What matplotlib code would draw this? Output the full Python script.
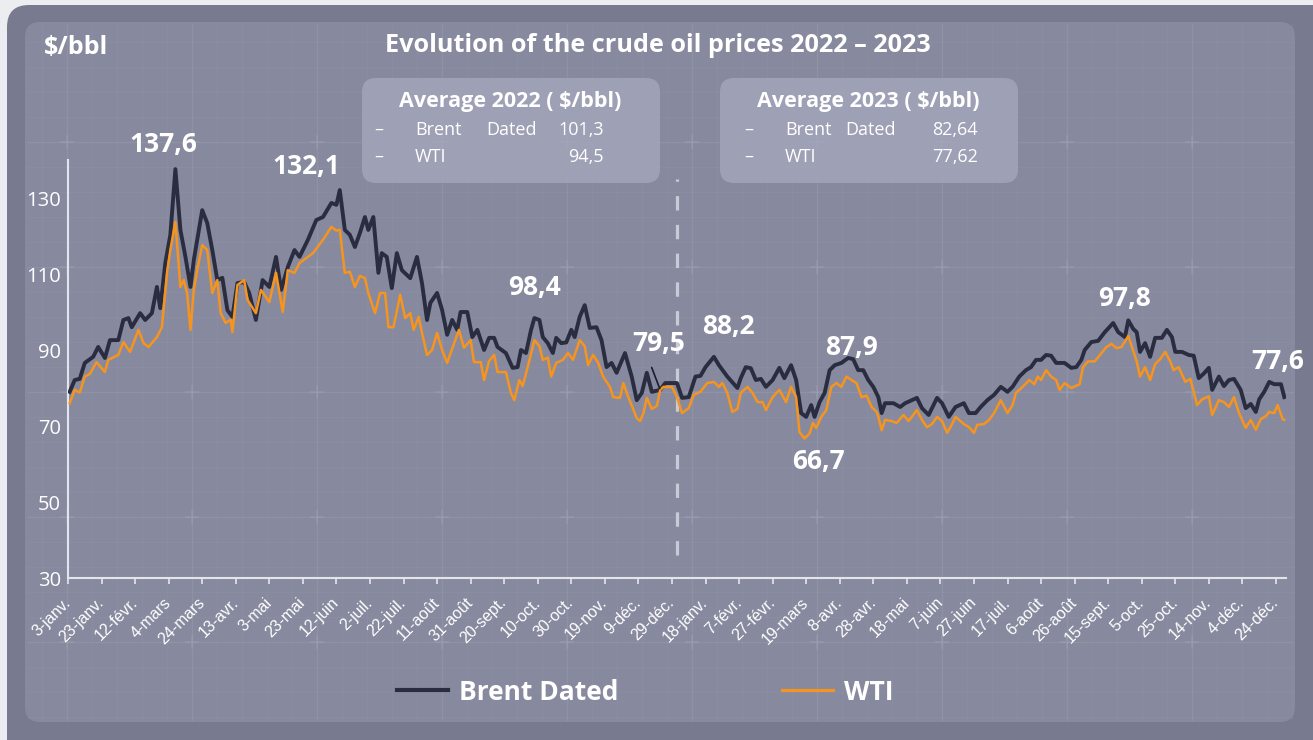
import numpy as np
import pandas as pd
import matplotlib
matplotlib.use('Agg')
import matplotlib.pyplot as plt
from matplotlib.patches import FancyBboxPatch
from matplotlib.transforms import IdentityTransform, ScaledTranslation
from matplotlib.lines import Line2D

W, H = 1313, 740
plt.rcParams['font.family'] = ['Open Sans', 'DejaVu Sans']

# day offsets from 3 Jan 2022, prices in $/bbl
start = pd.Timestamp('2022-01-03')
brent_days = [1, 4, 7, 10, 15, 18, 22, 25, 30, 33, 36, 38, 43, 46, 50, 53, 55, 58, 61, 64,
              67, 70, 73, 75, 77, 80, 83, 86, 89, 92, 95, 98, 101, 105, 108, 112, 116, 120, 124, 127,
              131, 135, 138, 143, 148, 152, 157, 160, 162, 165, 168, 171, 174, 177, 179, 182, 185, 187, 190, 193,
              196, 199, 204, 208, 211, 214, 216, 220, 223, 226, 229, 232, 234, 238, 241, 244, 248, 251, 254, 256,
              261, 265, 268, 270, 273, 276, 278, 281, 283, 286, 289, 291, 294, 297, 300, 302, 305, 308, 311, 315,
              318, 321, 324, 327, 332, 336, 339, 342, 345, 348, 353, 356, 359, 363, 366, 370, 374, 377, 380, 385,
              388, 393, 399, 401, 404, 407, 410, 413, 416, 420, 424, 427, 431, 434, 437, 440, 443, 445, 448, 451,
              454, 457, 461, 465, 468, 471, 474, 477, 480, 483, 485, 487, 492, 496, 499, 506, 509, 513, 518, 521,
              525, 529, 534, 537, 541, 544, 548, 552, 556, 560, 563, 567, 571, 574, 577, 580, 583, 586, 589, 594,
              598, 601, 604, 606, 610, 614, 618, 623, 626, 630, 632, 635, 637, 639, 642, 645, 648, 652, 655, 658,
              660, 664, 668, 671, 674, 677, 680, 682, 686, 689, 692, 695, 699, 702, 705, 708, 710, 713, 716, 719,
              723, 725]
brent = [79.0, 82.1, 82.4, 86.6, 88.2, 90.8, 87.9, 92.6, 92.6, 97.9, 98.4, 96.0, 99.7, 97.9, 99.7, 106.6, 101.0, 112.9, 120.3, 137.6,
         121.6, 114.5, 106.6, 113.7, 119.0, 126.8, 123.4, 116.3, 108.4, 109.0, 100.5, 98.7, 107.6, 107.9, 105.0, 97.9, 108.4, 106.6, 114.5, 105.8,
         111.8, 116.3, 114.5, 119.0, 124.2, 125.0, 128.7, 128.2, 132.1, 121.6, 120.3, 117.1, 120.8, 125.0, 121.6, 125.0, 110.3, 115.5, 114.5, 106.3,
         115.5, 111.0, 108.9, 114.5, 107.6, 97.9, 102.4, 105.0, 100.5, 94.0, 97.9, 95.3, 100.0, 100.0, 93.4, 95.3, 90.0, 93.2, 93.2, 90.8,
         89.2, 85.3, 85.5, 90.0, 89.2, 95.3, 98.4, 97.9, 93.4, 91.8, 89.2, 93.2, 91.8, 92.0, 95.3, 93.4, 98.7, 101.8, 95.8, 96.0,
         92.6, 85.5, 86.6, 84.0, 89.2, 83.0, 76.8, 78.7, 84.0, 79.0, 79.5, 81.3, 81.3, 81.3, 77.4, 77.6, 83.0, 83.2, 85.5, 88.2,
         86.0, 83.0, 80.0, 82.6, 85.5, 85.2, 82.1, 82.4, 80.3, 82.1, 85.3, 82.6, 86.0, 82.1, 73.4, 72.4, 75.5, 72.4, 76.3, 78.7,
         84.7, 86.0, 86.6, 87.9, 87.6, 84.7, 84.7, 82.1, 80.3, 77.6, 73.4, 76.0, 76.0, 75.0, 76.0, 77.4, 74.7, 72.9, 77.4, 76.0,
         72.4, 75.0, 76.0, 73.4, 73.4, 75.0, 76.8, 78.2, 80.3, 79.0, 80.3, 83.0, 84.7, 85.5, 87.4, 87.4, 88.7, 88.5, 86.6, 86.6,
         85.3, 85.5, 87.4, 90.0, 92.1, 92.4, 94.7, 97.1, 94.7, 93.4, 97.8, 95.5, 94.7, 89.5, 91.8, 88.2, 93.2, 93.2, 95.3, 93.4,
         89.5, 89.5, 88.7, 88.5, 82.6, 83.8, 85.3, 79.5, 83.0, 80.5, 82.1, 82.4, 79.5, 74.7, 75.8, 73.7, 77.0, 79.0, 81.6, 81.0,
         81.0, 77.6]
wti_days = [1, 4, 7, 10, 13, 17, 22, 24, 30, 33, 37, 42, 45, 48, 53, 56, 59, 61, 64, 67,
            69, 71, 73, 75, 77, 80, 83, 86, 89, 91, 94, 97, 98, 101, 105, 107, 112, 115, 120, 124,
            128, 131, 135, 138, 143, 146, 152, 157, 160, 162, 165, 168, 171, 174, 177, 179, 183, 186, 189, 191,
            194, 198, 201, 204, 206, 209, 211, 214, 217, 220, 223, 226, 229, 233, 236, 240, 242, 246, 248, 251,
            254, 256, 261, 264, 266, 269, 271, 274, 278, 281, 283, 286, 288, 291, 295, 298, 301, 305, 308, 310,
            313, 316, 319, 323, 325, 329, 331, 334, 339, 341, 343, 345, 348, 351, 353, 355, 360, 363, 366, 370,
            373, 377, 381, 385, 388, 390, 393, 396, 399, 401, 405, 408, 411, 414, 416, 420, 424, 428, 431, 434,
            436, 439, 442, 444, 446, 449, 452, 455, 458, 461, 464, 467, 470, 473, 476, 479, 482, 483, 485, 487,
            491, 494, 498, 501, 506, 509, 512, 515, 518, 521, 524, 527, 529, 534, 537, 540, 542, 546, 549, 552,
            556, 560, 563, 565, 569, 573, 576, 578, 580, 583, 586, 589, 591, 594, 598, 603, 605, 608, 612, 616,
            619, 622, 625, 628, 632, 635, 637, 639, 642, 645, 648, 651, 654, 657, 659, 662, 666, 669, 673, 676,
            680, 682, 686, 689, 692, 695, 698, 702, 705, 708, 711, 714, 716, 719, 721, 724, 725]
wti = [76.0, 79.5, 78.8, 83.0, 83.7, 86.8, 84.2, 87.4, 88.7, 92.1, 89.5, 95.3, 91.8, 90.8, 93.4, 96.0, 110.3, 116.3, 123.7, 106.6,
       108.4, 105.0, 95.3, 105.8, 111.0, 117.6, 116.3, 105.0, 108.4, 99.7, 97.1, 98.0, 94.7, 107.1, 108.4, 103.2, 99.7, 105.8, 102.6, 110.3,
       100.0, 111.0, 110.3, 112.9, 114.5, 115.5, 119.0, 122.4, 121.4, 121.6, 110.3, 110.6, 106.6, 109.5, 108.9, 105.0, 99.7, 105.0, 105.0, 96.0,
       96.0, 104.5, 98.4, 99.7, 95.3, 98.7, 94.5, 88.7, 90.0, 94.5, 90.0, 86.6, 90.3, 95.3, 90.6, 92.6, 86.8, 86.8, 82.1, 87.1,
       88.7, 84.2, 84.2, 78.7, 76.8, 82.1, 80.5, 85.5, 92.6, 91.0, 87.4, 88.0, 83.0, 86.6, 87.4, 89.2, 87.4, 92.6, 91.0, 86.0,
       88.7, 86.6, 83.0, 80.3, 77.6, 77.4, 81.3, 77.6, 72.1, 71.3, 73.4, 77.4, 74.5, 75.3, 79.5, 80.3, 80.3, 77.6, 73.4, 74.7,
       78.2, 79.0, 81.3, 81.6, 80.3, 81.3, 78.7, 73.7, 74.5, 78.7, 80.3, 78.7, 76.3, 76.3, 74.2, 77.6, 79.5, 76.3, 80.3, 77.6,
       68.4, 66.7, 68.0, 70.8, 69.5, 72.4, 74.2, 80.3, 81.3, 80.3, 83.0, 82.1, 81.3, 77.6, 78.0, 75.0, 73.7, 72.4, 68.9, 71.6,
       71.3, 70.8, 72.9, 71.3, 74.2, 71.6, 69.7, 70.5, 72.4, 71.3, 68.2, 70.5, 72.4, 70.5, 69.7, 68.2, 70.3, 70.5, 71.6, 73.4,
       76.8, 73.4, 75.5, 78.7, 80.3, 82.1, 81.0, 83.0, 82.1, 84.7, 83.0, 82.1, 79.5, 81.3, 80.0, 81.0, 85.5, 87.0, 87.0, 89.2,
       90.8, 91.6, 90.5, 90.8, 93.7, 89.7, 87.0, 83.0, 85.5, 82.1, 86.3, 87.6, 89.5, 87.0, 84.7, 85.5, 81.6, 82.4, 75.5, 77.0,
       77.8, 72.9, 76.8, 76.3, 75.0, 77.6, 73.4, 69.5, 71.6, 69.0, 71.8, 72.6, 73.7, 73.4, 75.5, 71.8, 71.6]

tick_labels = ['3-janv.', '23-janv.', '12-févr.', '4-mars', '24-mars', '13-avr.', '3-mai', '23-mai',
               '12-juin', '2-juil.', '22-juil.', '11-août', '31-août', '20-sept.', '10-oct.', '30-oct.',
               '19-nov.', '9-déc.', '29-déc.', '18-janv.', '7-févr.', '27-févr.', '19-mars', '8-avr.',
               '28-avr.', '18-mai', '7-juin', '27-juin', '17-juil.', '6-août', '26-août', '15-sept.',
               '5-oct.', '25-oct.', '14-nov.', '4-déc.', '24-déc.']

# labelled points: (series, day offset)
peaks = [('brent', 64), ('brent', 162), ('brent', 278), ('brent', 353), ('brent', 385),
         ('brent', 465), ('wti', 439), ('brent', 632), ('brent', 725)]
# label placement in pixels relative to the point
peak_offsets = [(-12, 11, 'bottom'), (-34, 10, 'bottom'), (0, 17, 'bottom'), (-2, 33, 'bottom'),
                (15, 17, 'bottom'), (3, -3, 'bottom'), (14, -9, 'top'), (-4, 8, 'bottom'), (-7, 22, 'bottom')]

avg_2022 = [('Brent', 'Dated', '101,3'), ('WTI', '', '94,5')]
avg_2023 = [('Brent', 'Dated', '82,64'), ('WTI', '', '77,62')]

series = {'brent': (brent_days, brent), 'wti': (wti_days, wti)}

BG_PAGE = '#ecedf1'
BG_OUTER = '#787b90'
BG_PANEL = '#878a9f'
BOX = '#a3a5b9'
NAVY = '#2a2c40'
ORANGE = '#f7941d'
LIGHT = '#e4e5ec'


def to_dates(days):
    return start + pd.to_timedelta(np.array(days), unit='D')


fig = plt.figure(figsize=(W / 100, H / 100), dpi=100)
fig.patch.set_facecolor(BG_PAGE)
pix = IdentityTransform()


def ptext(x, y, s, **kw):
    return fig.text(x, H - y, s, transform=pix, **kw)


# frame and panel
fig.patches.append(FancyBboxPatch((7, -30), W + 40, H + 25, boxstyle='round,pad=0,rounding_size=22',
                                  transform=pix, facecolor=BG_OUTER, edgecolor='none', zorder=-5))
fig.patches.append(FancyBboxPatch((25, H - 722), 1270, 700, boxstyle='round,pad=0,rounding_size=15',
                                  transform=pix, facecolor=BG_PANEL, edgecolor='none', zorder=-4))

# faint background grid texture
for gx in np.arange(42, 1295, 25):
    major = (gx - 67) % 125 == 0
    fig.lines.append(Line2D([gx, gx], [H - 720, H - 24], transform=pix, color='white',
                            alpha=0.07 if major else 0.03, lw=1, zorder=-3))
for gy in np.arange(42, 720, 25):
    major = (gy - 17) % 125 == 0
    fig.lines.append(Line2D([27, 1293], [H - gy, H - gy], transform=pix, color='white',
                            alpha=0.07 if major else 0.03, lw=1, zorder=-3))
mx, my = np.meshgrid(np.arange(67, 1295, 125), np.arange(142, 720, 125))
fig.lines.append(Line2D(mx.ravel(), H - my.ravel(), transform=pix, ls='none', marker='+', ms=10,
                        mew=1.3, color='white', alpha=0.08, zorder=-3))

# averages boxes
for (x0, title, rows, xs) in [(362, 'Average 2022 ( $/bbl)', avg_2022, (379, 415, 486, 604)),
                              (720, 'Average 2023 ( $/bbl)', avg_2023, (749, 785, 845, 978))]:
    fig.patches.append(FancyBboxPatch((x0, H - 183), 298, 105, boxstyle='round,pad=0,rounding_size=14',
                                      transform=pix, facecolor=BOX, edgecolor='none', alpha=0.85, zorder=-2))
    ptext(x0 + 148, 102, title, ha='center', va='center', color='white', fontsize=15.5, fontweight='bold')
    for i, (a, b, v) in enumerate(rows):
        yy = 130 + 27 * i
        ptext(xs[0], yy, '–', ha='center', va='center', color='white', fontsize=13)
        ptext(xs[1], yy, a, ha='left', va='center', color='white', fontsize=13)
        if b:
            ptext(xs[2], yy, b, ha='left', va='center', color='white', fontsize=13)
        ptext(xs[3], yy, v, ha='right', va='center', color='white', fontsize=13)

ptext(658, 45, 'Evolution of the crude oil prices 2022 – 2023', ha='center', va='center',
      color='white', fontsize=18.2, fontweight='bold')
ptext(44, 47, '$/bbl', ha='left', va='center', color='white', fontsize=18, fontweight='bold')

# main axes
ax = fig.add_axes([68 / W, 162 / H, 1218 / W, 418 / H])
ax.set_facecolor('none')
ax.plot(to_dates(brent_days), brent, color=NAVY, lw=2.8, zorder=3)
ax.plot(to_dates(wti_days), wti, color=ORANGE, lw=1.8, zorder=4)

ax.set_xlim(start, start + pd.Timedelta(days=726))
ax.set_ylim(30, 140)
ax.set_yticks([30, 50, 70, 90, 110, 130])
ticks = pd.date_range(start, periods=len(tick_labels), freq='20D')
ax.set_xticks(ticks)
ax.set_xticklabels(tick_labels, rotation=45, ha='right', va='center', rotation_mode='anchor',
                   fontsize=11.5, color='white', family=['Liberation Sans', 'DejaVu Sans'])
shift = ScaledTranslation(6 / 100, 0, fig.dpi_scale_trans)
for lab in ax.get_xticklabels():
    lab.set_transform(lab.get_transform() + shift)
for s in ['top', 'right']:
    ax.spines[s].set_visible(False)
for s in ['left', 'bottom']:
    ax.spines[s].set_color(LIGHT)
    ax.spines[s].set_linewidth(1.5)
ax.tick_params(axis='y', length=0, pad=5, labelsize=14.5, labelcolor='white')
ax.tick_params(axis='x', length=4, width=1.2, color=LIGHT, pad=12)

# year separator
ax.vlines(pd.Timestamp('2023-01-01'), 36, 135, colors='#c9cad6', lw=2.3, linestyles=(0, (4.5, 4.5)), zorder=2)

# value labels
for (name, d), (dx, dy, va) in zip(peaks, peak_offsets):
    dd, vals = series[name]
    v = vals[dd.index(d)]
    txt = f'{v:.1f}'.replace('.', ',')
    kw = {}
    if d == 353:
        kw['arrowprops'] = dict(arrowstyle='-', color='#1c1d2b', lw=1.2, relpos=(0.3, 0.0), shrinkA=6, shrinkB=1)
    ax.annotate(txt, xy=(start + pd.Timedelta(days=d), v), xytext=(dx, dy), textcoords='offset pixels',
                ha='center', va=va, color='white', fontsize=19, fontweight='bold', zorder=6, **kw)

# legend
handles = [Line2D([], [], color=NAVY, lw=3), Line2D([], [], color=ORANGE, lw=2.2)]
leg = fig.legend(handles, ['Brent Dated', 'WTI'], loc='center', bbox_to_anchor=(645 / W, 1 - 692 / H),
                 ncol=2, frameon=False, handlelength=1.95, handletextpad=0.4, columnspacing=6.2,
                 prop={'size': 19, 'weight': 'bold'})
for t in leg.get_texts():
    t.set_color('white')

fig.savefig('out.png', dpi=100, facecolor=fig.get_facecolor())
